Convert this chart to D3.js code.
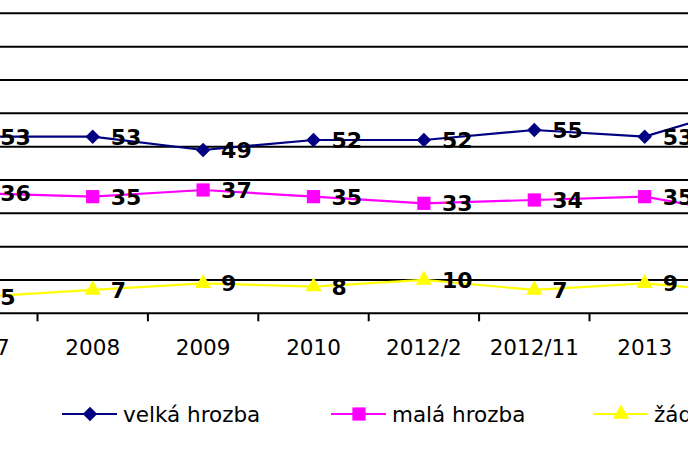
<!DOCTYPE html>
<html>
<head>
<meta charset="utf-8">
<script src="https://cdn.jsdelivr.net/npm/d3@7"></script>
<style>
    html, body { margin: 0; padding: 0; background: #fff; overflow: hidden; }
    .chart { width: 688px; height: 459px; }
    text { font-family: "DejaVu Sans", Verdana, sans-serif; }
</style>
</head>
<body>
<div class="chart"></div>
<script>
const categories = ["2007", "2008", "2009", "2010", "2012/2", "2012/11", "2013", "2014"];
const velkaHrozba = [53, 53, 49, 52, 52, 55, 53, 63];
const malaHrozba = [36, 35, 37, 35, 33, 34, 35, 29];
const zadnaHrozba = [5, 7, 9, 8, 10, 7, 9, 6];
const seriesNames = ["velká hrozba", "malá hrozba", "žádná hrozba"];

document.addEventListener("DOMContentLoaded", function () {

    const w = 688,
        h = 459,
        step = 110.4,
        left = 37.5 - step,
        baseY = 313.3;

    const series = [
        {name: seriesNames[0], values: velkaHrozba, color: "#000080", symbol: d3.symbolSquare, size: 105, rot: 45},
        {name: seriesNames[1], values: malaHrozba, color: "#ff00ff", symbol: d3.symbolSquare, size: 175, rot: 0},
        {name: seriesNames[2], values: zadnaHrozba, color: "#ffff00", symbol: d3.symbolTriangle, size: 115, rot: 0}
    ];

    const xScale = d3.scaleBand()
        .domain(categories)
        .range([left, left + step * categories.length])
        .padding(0);

    const yScale = d3.scaleLinear()
        .domain([0, 100])
        .range([baseY, baseY - 333.3]);

    const cx = c => xScale(c) + xScale.bandwidth() / 2;

    const svg = d3.select(".chart")
        .append("svg")
        .attr("width", w)
        .attr("height", h);

    // gridlines
    svg.append("g")
        .selectAll("line")
        .data(yScale.ticks(10).filter(t => t > 0))
        .enter()
        .append("line")
        .attr("x1", 0)
        .attr("x2", w)
        .attr("y1", d => yScale(d))
        .attr("y2", d => yScale(d))
        .attr("stroke", "#000")
        .attr("stroke-width", 2);

    // x axis, ticks between categories
    const xAxis = d3.axisBottom(xScale).tickSize(0).tickPadding(26);
    const gx = svg.append("g")
        .attr("id", "x-axis")
        .attr("transform", "translate(0," + baseY + ")")
        .call(xAxis);
    gx.select(".domain").remove();
    gx.selectAll("text")
        .attr("font-size", 21.5)
        .attr("fill", "#000")
        .style("font-family", "'DejaVu Sans', Verdana, sans-serif");

    svg.append("line")
        .attr("x1", 0)
        .attr("x2", w)
        .attr("y1", baseY)
        .attr("y2", baseY)
        .attr("stroke", "#000")
        .attr("stroke-width", 2);

    svg.append("g")
        .selectAll("line")
        .data(categories)
        .enter()
        .append("line")
        .attr("x1", d => xScale(d))
        .attr("x2", d => xScale(d))
        .attr("y1", baseY)
        .attr("y2", baseY + 8)
        .attr("stroke", "#000")
        .attr("stroke-width", 2);

    const line = d3.line()
        .x((d, i) => cx(categories[i]))
        .y(d => yScale(d));

    series.forEach(function (s) {
        svg.append("path")
            .datum(s.values)
            .attr("d", line)
            .attr("fill", "none")
            .attr("stroke", s.color)
            .attr("stroke-width", 2.2);

        svg.append("g")
            .selectAll("path")
            .data(s.values)
            .enter()
            .append("path")
            .attr("d", d3.symbol().type(s.symbol).size(s.size))
            .attr("transform", (d, i) => "translate(" + cx(categories[i]) + "," + yScale(d) + ") rotate(" + s.rot + ")")
            .attr("fill", s.color);

        svg.append("g")
            .selectAll("text")
            .data(s.values)
            .enter()
            .append("text")
            .attr("x", (d, i) => cx(categories[i]) + 18)
            .attr("y", d => yScale(d) + 8)
            .attr("font-size", 22)
            .attr("font-weight", "bold")
            .attr("fill", "#000")
            .text(d => d);
    });

    // legend
    const legendX = [62, 331, 593];
    const legend = svg.append("g")
        .selectAll("g")
        .data(series)
        .enter()
        .append("g")
        .attr("transform", (d, i) => "translate(" + legendX[i] + ",414)");

    legend.append("line")
        .attr("x1", 0)
        .attr("x2", 55)
        .attr("stroke", d => d.color)
        .attr("stroke-width", 2.2);
    legend.append("path")
        .attr("d", d => d3.symbol().type(d.symbol).size(d.size)())
        .attr("transform", d => "translate(28,0) rotate(" + d.rot + ")")
        .attr("fill", d => d.color);
    legend.append("text")
        .attr("x", 61)
        .attr("y", 7.5)
        .attr("font-size", 21.5)
        .attr("fill", "#000")
        .text(d => d.name);
});
</script>
</body>
</html>
